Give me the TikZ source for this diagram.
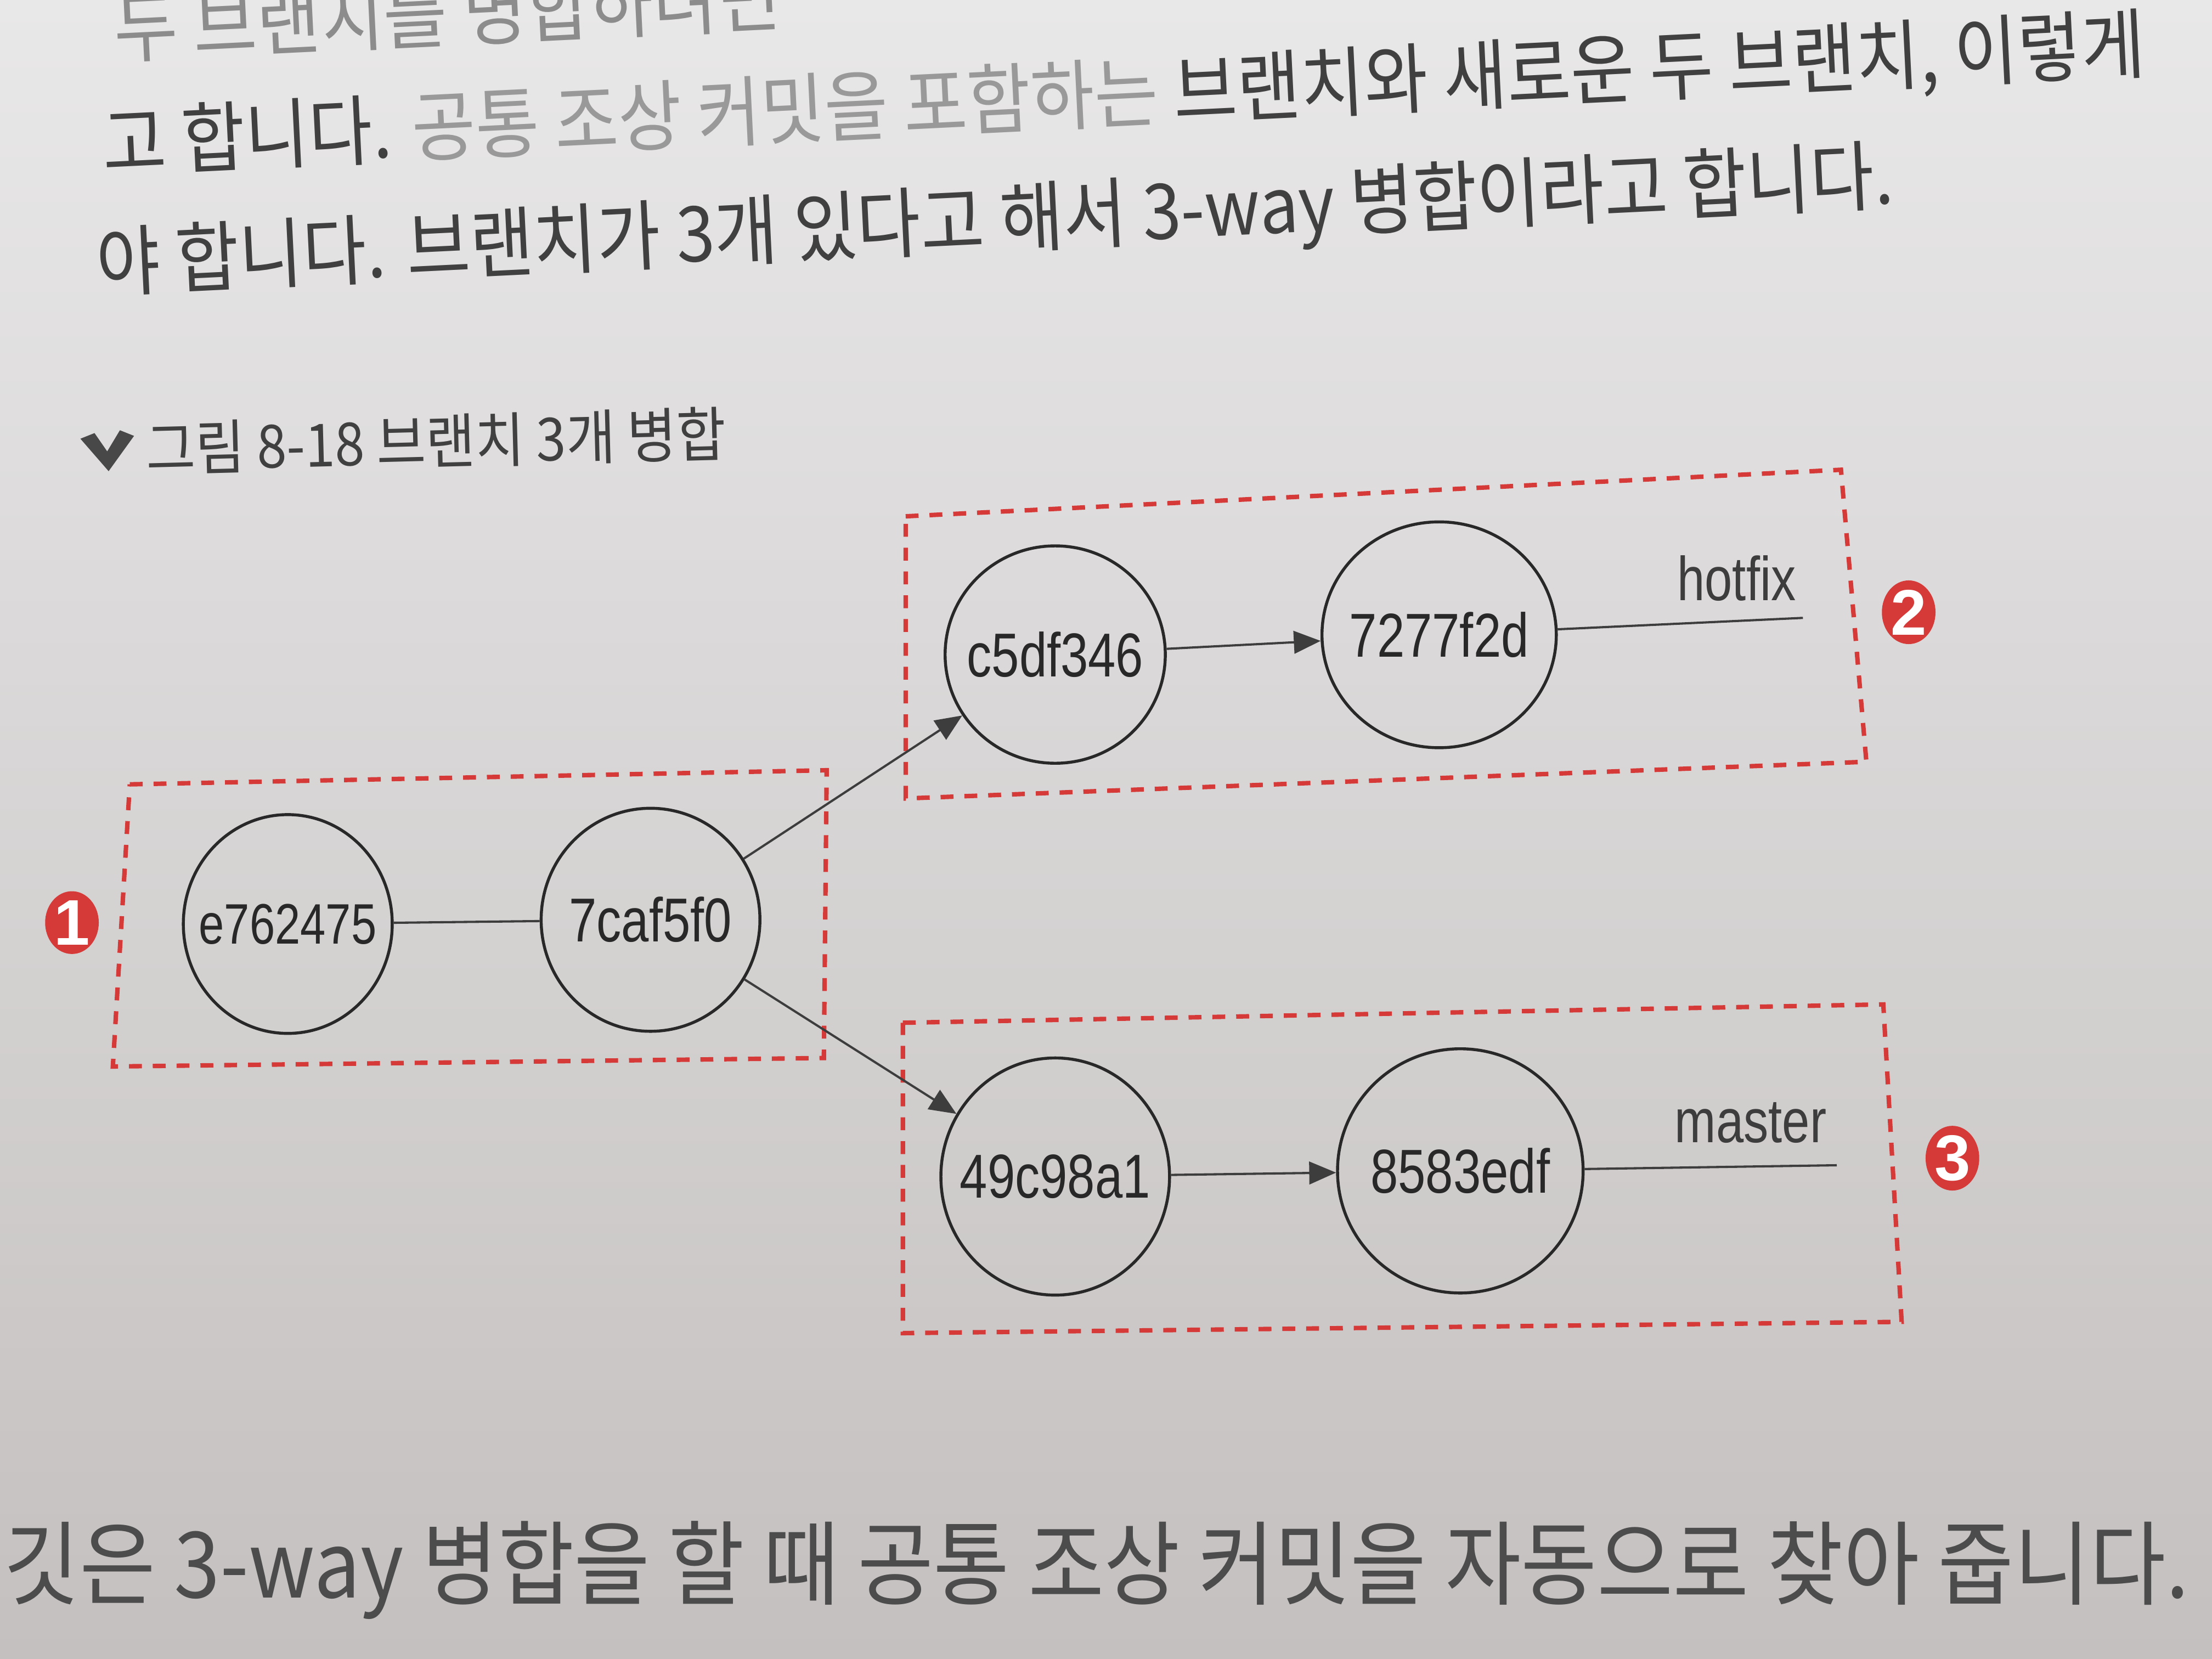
\documentclass[tikz,border=0pt]{standalone}
\usepackage{fontspec}
\setmainfont{Liberation Sans}
\newfontfamily\hashfont[FakeStretch=0.8]{Liberation Sans}
\newfontfamily\krfont[FakeStretch=0.9]{Noto Sans CJK KR}
\usepackage{xcolor}
\usepackage{tikz}
\usetikzlibrary{shapes,arrows.meta}
\usetikzlibrary{positioning}
\definecolor{paperhi}{RGB}{233,232,233}
\definecolor{paperlo}{RGB}{196,192,191}
\definecolor{markred}{RGB}{214,58,56}
\definecolor{inkgray}{RGB}{40,40,40}
\tikzstyle{commit} = [ellipse, draw=inkgray, line width=0.6pt, text=inkgray,
    font=\hashfont\fontsize{12.5}{14}\selectfont, inner xsep=-5pt, inner ysep=0pt]
\tikzstyle{link} = [draw, line width=0.45pt, inkgray!90]
\tikzstyle{line} = [draw, line width=0.45pt, inkgray!90,
    -{Triangle[length=0.19cm,width=0.16cm]}]
\tikzstyle{group} = [draw=markred, line width=0.9pt, dash pattern=on 2.6pt off 2.2pt]
\tikzstyle{badge} = [ellipse, fill=markred, text=white, inner sep=0pt,
    minimum width=0.38cm, minimum height=0.44cm, font=\bfseries\fontsize{13}{13}\selectfont]
\tikzstyle{branch} = [text=inkgray!90, font=\hashfont\fontsize{12.5}{14}\selectfont]
\tikzstyle{bodytext} = [anchor=west, inner sep=0pt, text=black!75,
    font=\krfont\fontsize{15.5}{17}\selectfont]

\begin{document}
\begin{tikzpicture}[x=0.01cm, y=-0.01cm]
  % Page
  \shade[top color=paperhi, bottom color=paperlo] (0,0) rectangle (1568,1176);
  \useasboundingbox (0,0) rectangle (1568,1176);
  \clip (0,0) rectangle (1568,1176);

  % Text of the page
  \node [bodytext, rotate=2.8, text=black!45] (line1) at (80,20) {두 브랜치를 병합하려면};
  \node [bodytext, rotate=2.8] (line2) at (72,104) {고 합니다. {\color{black!40}공통 조상 커밋을 포함하는} 브랜치와 새로운 두 브랜치, 이렇게};
  \node [bodytext, rotate=2.8] (line3) at (68,190) {야 합니다. 브랜치가 3개 있다고 해서 3-way 병합이라고 합니다.};
  \fill [inkgray!85] (57,311) -- (67,307) -- (76,320) -- (85,305) -- (95,309) -- (77,334) -- cycle;
  \node [bodytext, rotate=1.5, font=\krfont\fontsize{12}{14}\selectfont] (caption) at (103,318) {그림 8-18 브랜치 3개 병합};
  \node [bodytext, text=black!70, font=\krfont\fontsize{18.5}{21}\selectfont] (line4) at (2,1113) {깃은 3-way 병합을 할 때 공통 조상 커밋을 자동으로 찾아 줍니다.};

  % Groups
  \draw [group] (92,556) -- (586,546) -- (584,750) -- (80,756) -- cycle;
  \draw [group] (642,366) -- (1305,333) -- (1323,540) -- (642,566) -- cycle;
  \draw [group] (640,725) -- (1335,712) -- (1348,937) -- (640,945) -- cycle;
  \node [badge] (one) at (51,654) {1};
  \node [badge] (two) at (1353,434) {2};
  \node [badge] (three) at (1384,821) {3};

  % Place commits
  \node [commit, minimum width=1.48cm, minimum height=1.55cm,
         font=\hashfont\fontsize{11.5}{14}\selectfont] (ne762475) at (204,655) {e762475};
  \node [commit, right of=ne762475, node distance=2.57cm, yshift=0.03cm,
         minimum width=1.55cm, minimum height=1.58cm] (n7caf5f0) {7caf5f0};
  \node [commit, minimum width=1.56cm, minimum height=1.54cm] (nc5df346) at (748,464) {c5df346};
  \node [commit, right of=nc5df346, node distance=2.72cm, yshift=0.14cm,
         minimum width=1.66cm, minimum height=1.6cm] (n7277f2d) {7277f2d};
  \node [commit, minimum width=1.62cm, minimum height=1.68cm] (n49c98a1) at (748,834) {49c98a1};
  \node [commit, right of=n49c98a1, node distance=2.87cm, yshift=0.04cm,
         minimum width=1.74cm, minimum height=1.73cm] (n8583edf) {8583edf};

  % Branch names
  \coordinate (hotfixend) at (1278,438);
  \node [branch] (hotfix) at (1231,410) {hotfix};
  \coordinate (masterend) at (1302,826);
  \node [branch] (master) at (1241,796) {master};

  % Draw edges
  \path [link] (ne762475) -- (n7caf5f0);
  \path [line] (n7caf5f0) -- (nc5df346);
  \path [line] (n7caf5f0) -- (n49c98a1);
  \path [line] (nc5df346) -- (n7277f2d);
  \path [line] (n49c98a1) -- (n8583edf);
  \path [link] (n7277f2d) -- (hotfixend);
  \path [link] (n8583edf) -- (masterend);
\end{tikzpicture}
\end{document}
